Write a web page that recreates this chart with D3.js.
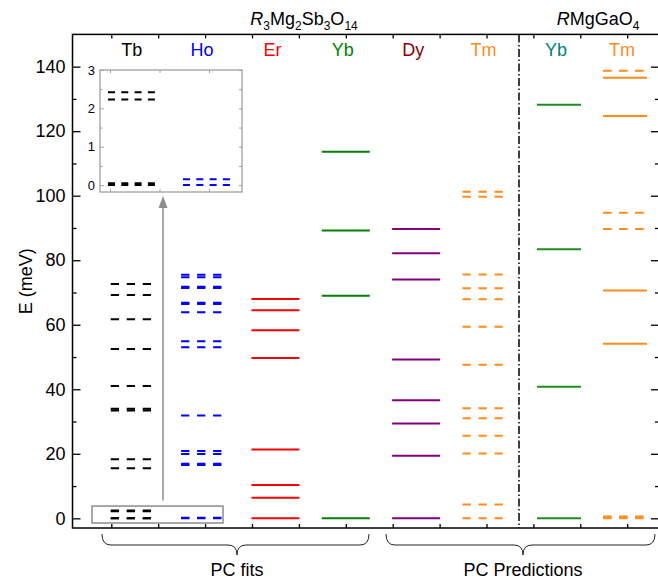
<!DOCTYPE html>
<html><head><meta charset="utf-8">
<script src="https://cdn.jsdelivr.net/npm/d3@7"></script>
<style>body{margin:0;background:#fff}svg text{font-family:"Liberation Sans",Arial,Helvetica,sans-serif}</style>
</head><body><svg id="c" width="658" height="582"></svg>
<script>
// ---- data ----
const leftCategories = ["Tb","Ho","Er","Yb","Dy","Tm"];
const rightCategories = ["Yb","Tm"];
const yTicks = [0,20,40,60,80,100,120,140];
const yMinorTicks = [10,30,50,70,90,110,130];
const insetTicks = [0,1,2,3];
const insetMinorTicks = [0.5,1.5,2.5];
const tbLevels = [0,0.05,2.23,2.42,15.5,18.3,33.4,34.0,41.0,52.5,61.7,69.2,72.6];
const hoLevels = [0,0.15,16.5,16.9,19.9,20.9,31.9,53.0,54.9,63.9,66.4,66.8,71.4,71.8,74.7,75.5];
const erLevels = [0,6.4,10.3,21.3,49.7,58.3,64.5,68.0];
const ybLevels = [0,69.0,89.2,113.6];
const dyLevels = [0,19.4,29.4,36.6,49.2,74.0,82.2,89.7];
const tmLevels = [0,4.3,20.1,25.6,31.0,34.1,47.6,59.4,67.9,71.3,75.6,99.7,101.2];
const ybMgGaLevels = [0,40.8,83.4,128.2];
const tmMgGaSolid = [54.1,70.6,124.7,136.6];
const tmMgGaDashed = [0,0.6,89.7,94.7,138.7];
const insetTb = [0,0.05,2.23,2.42];
const insetHo = [0,0.15];
const groupLabels = ["PC fits","PC Predictions"];

// ---- layout ----
const svg = d3.select("#c");
const FONT = 18;
const y = d3.scaleLinear().domain([-3,150]).range([528,34.4]);
const xt = d3.scaleLinear().domain([0,11]).range([111.3,627.2]);
const X0 = 72.5, X1 = 659;
const xL = d3.scalePoint().domain(leftCategories).range([xt(0.5), xt(8)]);
const xR = d3.scalePoint().domain(rightCategories).range([559,625]);

// frame
svg.append("rect").attr("x",X0).attr("y",y(150)).attr("width",X1-X0).attr("height",y(-3)-y(150))
  .attr("fill","none").attr("stroke","#000").attr("stroke-width",1.5);

function styleAxis(g){ g.select(".domain").remove(); g.selectAll("line").attr("stroke","#000").attr("stroke-width",1.3);
  g.selectAll("text").attr("font-size",FONT).attr("font-family","Liberation Sans, Arial, sans-serif").attr("fill","#000"); }

svg.append("g").attr("transform",`translate(${X0},0)`)
  .call(d3.axisLeft(y).tickValues(yTicks).tickSize(-8).tickPadding(7)).call(styleAxis);
svg.append("g").attr("transform",`translate(${X0},0)`)
  .call(d3.axisLeft(y).tickValues(yMinorTicks).tickSize(-4).tickFormat("")).call(styleAxis);
svg.append("g").attr("transform",`translate(${X1},0)`)
  .call(d3.axisRight(y).tickValues(yTicks).tickSize(-8).tickFormat("")).call(styleAxis);
svg.append("g").attr("transform",`translate(${X1},0)`)
  .call(d3.axisRight(y).tickValues(yMinorTicks).tickSize(-4).tickFormat("")).call(styleAxis);
const xtv = d3.range(0,12);
svg.append("g").attr("transform",`translate(0,${y(-3)})`)
  .call(d3.axisBottom(xt).tickValues(xtv).tickSize(-4).tickFormat("")).call(styleAxis);
svg.append("g").attr("transform",`translate(0,${y(150)})`)
  .call(d3.axisTop(xt).tickValues(xtv).tickSize(-4).tickFormat("")).call(styleAxis);

svg.append("text").attr("transform",`translate(32,${(y(-3)+y(150))/2}) rotate(-90)`)
  .attr("text-anchor","middle").attr("font-size",FONT).text("E (meV)");

// separator
svg.append("line").attr("x1",519).attr("x2",519).attr("y1",y(150)).attr("y2",y(-3))
  .attr("stroke","#000").attr("stroke-width",1.5).attr("stroke-dasharray","8,2.5,1.5,2.5");

// series
const series = [
  {x:xL("Tb"),hw:24,color:"#000",label:"#000",name:"Tb",vals:tbLevels,dash:"8.3,7.7"},
  {x:xL("Ho"),hw:24,color:"#0000ff",label:"#0000ff",name:"Ho",vals:hoLevels,dash:"8.3,7.7"},
  {x:xL("Er"),hw:24,color:"#ff0000",label:"#ff0000",name:"Er",vals:erLevels,dash:null},
  {x:xL("Yb"),hw:24,color:"#008000",label:"#008000",name:"Yb",vals:ybLevels,dash:null},
  {x:xL("Dy"),hw:24,color:"#800080",label:"#8b0000",name:"Dy",vals:dyLevels,dash:null},
  {x:xL("Tm"),hw:24,color:"#ff8c1a",label:"#ff8c1a",name:"Tm",vals:tmLevels,dash:"8.3,7.7"},
  {x:xR("Yb"),hw:22,color:"#1e8c1e",label:"#008080",name:"Yb",vals:ybMgGaLevels,dash:null},
  {x:xR("Tm"),hw:22,color:"#ff8c1a",label:"#ff8c1a",name:"Tm",vals:tmMgGaSolid,dash:null},
  {x:xR("Tm"),hw:22,color:"#ff8c1a",label:null,name:"Tm",vals:tmMgGaDashed,dash:"8.7,7.3"}
];
series.forEach(s=>{
  svg.append("g").selectAll("line").data(s.vals).join("line")
    .attr("x1",s.x-s.hw).attr("x2",s.x+s.hw).attr("y1",d=>y(d)).attr("y2",d=>y(d))
    .attr("stroke",s.color).attr("stroke-width",2).attr("stroke-dasharray",s.dash);
  if(s.label) svg.append("text").attr("x",s.x-3).attr("y",56).attr("text-anchor","middle")
    .attr("font-size",FONT).attr("fill",s.label).text(s.name);
});

// headers
function header(x,parts){
  const t = svg.append("text").attr("x",x).attr("y",25).attr("text-anchor","middle").attr("font-size",FONT);
  let prevSub=false;
  parts.forEach(p=>{
    const ts = t.append("tspan").text(p.t);
    if(p.i) ts.attr("font-style","italic");
    if(p.s){ ts.attr("font-size",12).attr("dy",prevSub?0:5); prevSub=true; }
    else { if(prevSub) ts.attr("dy",-5); prevSub=false; }
  });
}
header(304,[{t:"R",i:1},{t:"3",s:1},{t:"Mg"},{t:"2",s:1},{t:"Sb"},{t:"3",s:1},{t:"O"},{t:"14",s:1}]);
header(598,[{t:"R",i:1},{t:"MgGaO"},{t:"4",s:1}]);

// bottom zoom box and arrow
svg.append("rect").attr("x",92).attr("y",y(3.8)).attr("width",223-92).attr("height",y(-1.45)-y(3.8))
  .attr("fill","none").attr("stroke","#8c8c8c").attr("stroke-width",1.5);
svg.append("line").attr("x1",163).attr("x2",163).attr("y1",y(5.5)).attr("y2",206)
  .attr("stroke","#8c8c8c").attr("stroke-width",1.5);
svg.append("path").attr("d","M163,196 L158.5,208 L167.5,208 Z").attr("fill","#8c8c8c");

// inset
const iy = d3.scaleLinear().domain([-0.18,3]).range([192,70]);
const IX0 = 100, IX1 = 242;
const ixt = d3.scaleLinear().domain([0,2]).range([110,209]);
svg.append("rect").attr("x",IX0).attr("y",iy(3)).attr("width",IX1-IX0).attr("height",iy(-0.18)-iy(3))
  .attr("fill","#fff").attr("stroke","#a0a0a0").attr("stroke-width",1.3);
function styleInset(g){ g.select(".domain").remove(); g.selectAll("line").attr("stroke","#a0a0a0").attr("stroke-width",1);
  g.selectAll("text").attr("font-size",13).attr("font-family","Liberation Sans, Arial, sans-serif").attr("fill","#000"); }
svg.append("g").attr("transform",`translate(${IX0},0)`)
  .call(d3.axisLeft(iy).tickValues(insetTicks).tickSize(-4).tickPadding(5).tickFormat(d3.format("d"))).call(styleInset);
svg.append("g").attr("transform",`translate(${IX0},0)`)
  .call(d3.axisLeft(iy).tickValues(insetMinorTicks).tickSize(-2.5).tickFormat("")).call(styleInset);
svg.append("g").attr("transform",`translate(${IX1},0)`)
  .call(d3.axisRight(iy).tickValues(insetTicks.concat(insetMinorTicks)).tickSize(-3).tickFormat("")).call(styleInset);
svg.append("g").attr("transform",`translate(0,${iy(3)})`)
  .call(d3.axisTop(ixt).tickValues([0,1,2]).tickSize(-3).tickFormat("")).call(styleInset);
svg.append("g").attr("transform",`translate(0,${iy(-0.18)})`)
  .call(d3.axisBottom(ixt).tickValues([0,1,2]).tickSize(-3).tickFormat("")).call(styleInset);
const ixp = d3.scalePoint().domain(["Tb","Ho"]).range([108,183]);
[[ "Tb", insetTb, "#000"], ["Ho", insetHo, "#0000ff"]].forEach(([k,vals,c])=>{
  svg.append("g").selectAll("line").data(vals).join("line")
    .attr("x1",ixp(k)).attr("x2",ixp(k)+47).attr("y1",d=>iy(d)).attr("y2",d=>iy(d))
    .attr("stroke",c).attr("stroke-width",2).attr("stroke-dasharray","7,6.3");
});

// braces
function brace(x1,x2,tip){
  const t=534,m=545,b=555,r=9;
  const d=`M${x1},${t} Q${x1},${m} ${x1+r},${m} L${tip-r},${m} Q${tip},${m} ${tip},${b} Q${tip},${m} ${tip+r},${m} L${x2-r},${m} Q${x2},${m} ${x2},${t}`;
  svg.append("path").attr("d",d).attr("fill","none").attr("stroke","#222").attr("stroke-width",1);
}
brace(102,369,237); brace(386,655,523);
svg.append("text").attr("x",237).attr("y",576).attr("text-anchor","middle").attr("font-size",FONT).text(groupLabels[0]);
svg.append("text").attr("x",523).attr("y",576).attr("text-anchor","middle").attr("font-size",FONT).text(groupLabels[1]);
</script></body></html>
